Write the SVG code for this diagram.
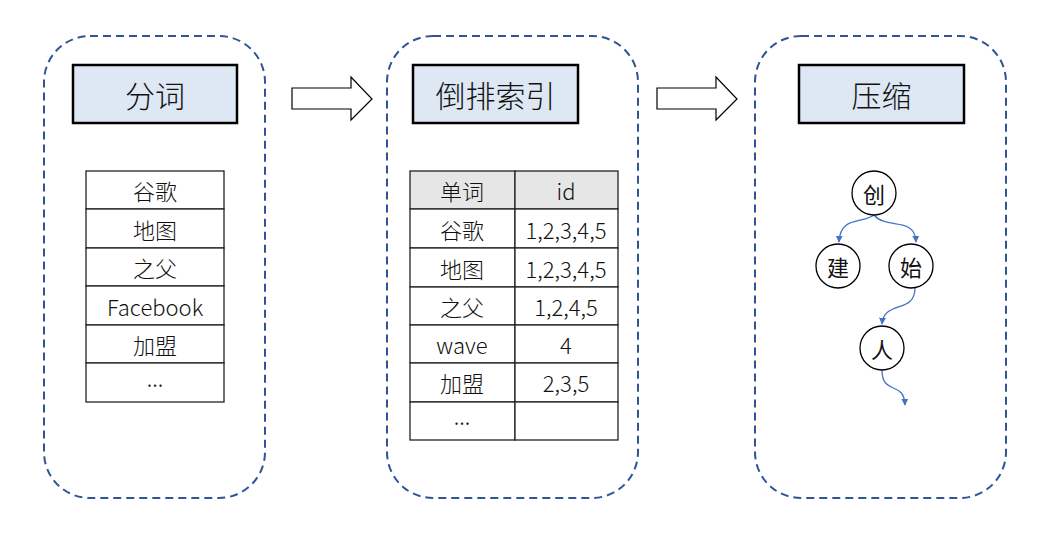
<svg xmlns="http://www.w3.org/2000/svg" width="1049" height="537" viewBox="0 0 1049 537">
<style>
.panel{fill:none;stroke:#2f5597;stroke-width:2;stroke-dasharray:8 5}
.title{fill:#dde8f4;stroke:#000;stroke-width:2.5}
.tt{font-family:"Noto Sans CJK SC","Liberation Sans",sans-serif;font-size:30px;font-weight:300;fill:#111;text-anchor:middle;dominant-baseline:central}
.cell{fill:#fff;stroke:#222;stroke-width:1.3}
.hdr{fill:#e7e6e6;stroke:#222;stroke-width:1.3}
.ct{font-family:"Noto Sans CJK SC","Liberation Sans",sans-serif;font-size:22px;font-weight:300;fill:#111;text-anchor:middle;dominant-baseline:central}
.barrow{fill:#fff;stroke:#000;stroke-width:1.2}
.node{fill:#fff;stroke:#000;stroke-width:1.3}
.nt{font-family:"Noto Sans CJK SC","Liberation Sans",sans-serif;font-size:22px;fill:#111;text-anchor:middle;dominant-baseline:central}
.edge{fill:none;stroke:#4472c4;stroke-width:1.3}
</style>
<defs>
<marker id="ah" viewBox="0 0 10 10" refX="9" refY="5" markerWidth="7" markerHeight="7" orient="auto" markerUnits="userSpaceOnUse">
<path d="M0,0 L10,5 L0,10 z" fill="#4472c4"/>
</marker>
</defs>

<g id="panel1">
<rect class="panel" x="44" y="36" width="221" height="462" rx="46"/>
<rect class="title" x="73" y="65" width="164" height="58"/>
<text class="tt" x="155" y="94">分词</text>
<rect class="cell" x="86" y="171" width="138" height="38"/>
<rect class="cell" x="86" y="209" width="138" height="39"/>
<rect class="cell" x="86" y="248" width="138" height="38"/>
<rect class="cell" x="86" y="286" width="138" height="39"/>
<rect class="cell" x="86" y="325" width="138" height="38"/>
<rect class="cell" x="86" y="363" width="138" height="39"/>
<text class="ct" x="155" y="190">谷歌</text>
<text class="ct" x="155" y="229">地图</text>
<text class="ct" x="155" y="267">之父</text>
<text class="ct" x="155" y="306">Facebook</text>
<text class="ct" x="155" y="344">加盟</text>
<text class="ct" x="155" y="377">...</text>
</g>

<g id="arrow1">
<polygon class="barrow" points="292,88 351,88 351,77 372,99 351,120 351,109 292,109"/>
</g>

<g id="panel2">
<rect class="panel" x="387" y="36" width="251" height="462" rx="46"/>
<rect class="title" x="413" y="65" width="165" height="58"/>
<text class="tt" x="495.5" y="94">倒排索引</text>
<rect class="hdr" x="410" y="171" width="105" height="38"/>
<rect class="hdr" x="515" y="171" width="103" height="38"/>
<rect class="cell" x="410" y="209" width="105" height="39"/>
<rect class="cell" x="515" y="209" width="103" height="39"/>
<rect class="cell" x="410" y="248" width="105" height="39"/>
<rect class="cell" x="515" y="248" width="103" height="39"/>
<rect class="cell" x="410" y="287" width="105" height="38"/>
<rect class="cell" x="515" y="287" width="103" height="38"/>
<rect class="cell" x="410" y="325" width="105" height="38"/>
<rect class="cell" x="515" y="325" width="103" height="38"/>
<rect class="cell" x="410" y="363" width="105" height="39"/>
<rect class="cell" x="515" y="363" width="103" height="39"/>
<rect class="cell" x="410" y="402" width="105" height="38"/>
<rect class="cell" x="515" y="402" width="103" height="38"/>
<text class="ct" x="462" y="190">单词</text>
<text class="ct" x="566" y="190">id</text>
<text class="ct" x="462" y="229">谷歌</text>
<text class="ct" x="566" y="229">1,2,3,4,5</text>
<text class="ct" x="462" y="268">地图</text>
<text class="ct" x="566" y="268">1,2,3,4,5</text>
<text class="ct" x="462" y="306">之父</text>
<text class="ct" x="566" y="306">1,2,4,5</text>
<text class="ct" x="462" y="344">wave</text>
<text class="ct" x="566" y="344">4</text>
<text class="ct" x="462" y="382">加盟</text>
<text class="ct" x="566" y="382">2,3,5</text>
<text class="ct" x="462" y="415">...</text>
</g>

<g id="arrow2">
<polygon class="barrow" points="657,88 716,88 716,77 737,99 716,120 716,109 657,109"/>
</g>

<g id="panel3">
<rect class="panel" x="755" y="36" width="251" height="462" rx="46"/>
<rect class="title" x="799" y="65" width="165" height="58"/>
<text class="tt" x="881.5" y="94">压缩</text>
</g>

<g id="connectors">
<path class="edge" d="M874,215 C862,224 840,216 839,242" marker-end="url(#ah)"/>
<path class="edge" d="M874,215 C886,230 915,216 916,242" marker-end="url(#ah)"/>
<path class="edge" d="M915,288 C915,314 884,300 882,324" marker-end="url(#ah)"/>
<path class="edge" d="M882,370 C882,396 904,380 905,405" marker-end="url(#ah)"/>
</g>

<g id="node-chuang">
<circle class="node" cx="874" cy="193" r="22"/>
<text class="nt" x="874" y="193">创</text>
</g>
<g id="node-jian">
<circle class="node" cx="838" cy="266" r="22"/>
<text class="nt" x="838" y="266">建</text>
</g>
<g id="node-shi">
<circle class="node" cx="911" cy="266" r="22"/>
<text class="nt" x="911" y="266">始</text>
</g>
<g id="node-ren">
<circle class="node" cx="882" cy="348" r="22"/>
<text class="nt" x="882" y="348">人</text>
</g>
</svg>
